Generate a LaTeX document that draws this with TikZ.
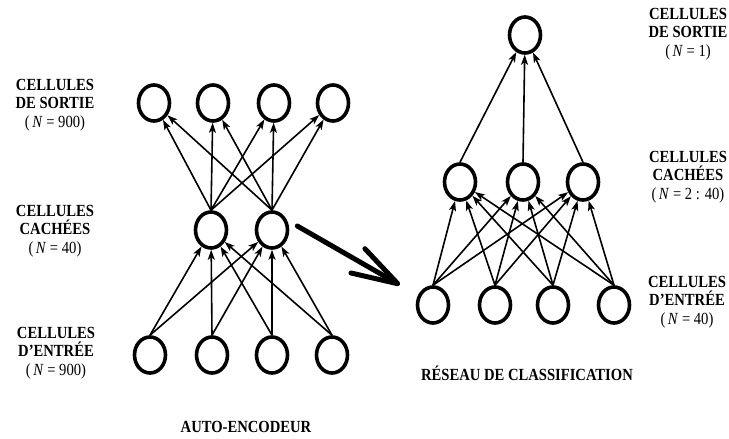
\documentclass[tikz,border=0pt]{standalone}
\usepackage{fontspec}
\setmainfont{Liberation Serif}
\usetikzlibrary{shapes.geometric, arrows.meta, calc}
\tikzstyle{cell}=[ellipse, draw, line width=3.6pt, minimum width=31pt, minimum height=36pt, inner sep=0pt]
\tikzstyle{arrow}=[-{Stealth[length=10pt, width=7pt, inset=2.5pt]}, line width=1.6pt]
\tikzstyle{bigarrow}=[-{Straight Barb[length=46pt, width=28pt, round]}, line width=5pt, line cap=round]
\tikzstyle{layer}=[font=\fontsize{17}{18.5}\selectfont\bfseries, align=center, inner sep=0pt, xscale=0.86, transform shape]
\tikzstyle{title}=[font=\fontsize{17}{18.5}\selectfont\bfseries, inner sep=0pt, xscale=0.86, transform shape]

\begin{document}
\begin{tikzpicture}[x=1pt, y=-1pt]
      \useasboundingbox (0,0) rectangle (729,439);

      % auto-encodeur
      \foreach \i/\x in {1/150, 2/212, 3/272, 4/332}
        \node[cell] (in\i) at (\x,355) {};
      \foreach \j/\x in {1/211, 2/272}
        \node[cell] (hid\j) at (\x,230) {};
      \foreach \k/\x in {1/154, 2/213, 3/274, 4/333}
        \node[cell] (out\k) at (\x,103) {};

      \node[layer] (lblOut) at (55,105) {CELLULES\\DE SORTIE\\{\mdseries(\,\textit{N} = 900)}};
      \node[layer] (lblHid) at (55,231) {CELLULES\\CACHÉES\\{\mdseries(\,\textit{N} = 40)}};
      \node[layer] (lblIn) at (56,353) {CELLULES\\D’ENTRÉE\\{\mdseries(\,\textit{N} = 900)}};
      \node[title] (autoenc) at (246,427) {AUTO-ENCODEUR};

      % reseau de classification
      \foreach \i/\x in {1/433, 2/495, 3/553, 4/614}
        \node[cell] (cin\i) at (\x,305) {};
      \foreach \j/\x in {1/460, 2/523, 3/583}
        \node[cell] (chid\j) at (\x,182) {};
      \node[cell] (cout) at (525,35) {};

      \node[layer] (clblOut) at (688,34) {CELLULES\\DE SORTIE\\{\mdseries(\,\textit{N} = 1)}};
      \node[layer] (clblHid) at (688,177) {CELLULES\\CACHÉES\\{\mdseries(\,\textit{N} = 2 : 40)}};
      \node[layer] (clblIn) at (687,302) {CELLULES\\D’ENTRÉE\\{\mdseries(\,\textit{N} = 40)}};
      \node[title] (classif) at (527,373) {RÉSEAU DE CLASSIFICATION};

      \foreach \i in {1,...,4}{
        \foreach \j in {1,2}{
          \draw[arrow] (in\i.north) -- (hid\j);
        }
      }
      \foreach \j in {1,2}{
        \foreach \k in {1,...,4}{
          \draw[arrow] (hid\j.north) -- (out\k);
        }
      }
      \foreach \i in {1,...,4}{
        \foreach \j in {1,2,3}{
          \draw[arrow] (cin\i.north) -- (chid\j);
        }
      }
      \foreach \j in {1,2,3}{
        \draw[arrow] (chid\j.north) -- (cout);
      }

      \coordinate (bigtip) at (400,285);
      \draw[bigarrow] ($(hid2.east)+(8,-4)$) -- (bigtip);

    \end{tikzpicture}
\end{document}
